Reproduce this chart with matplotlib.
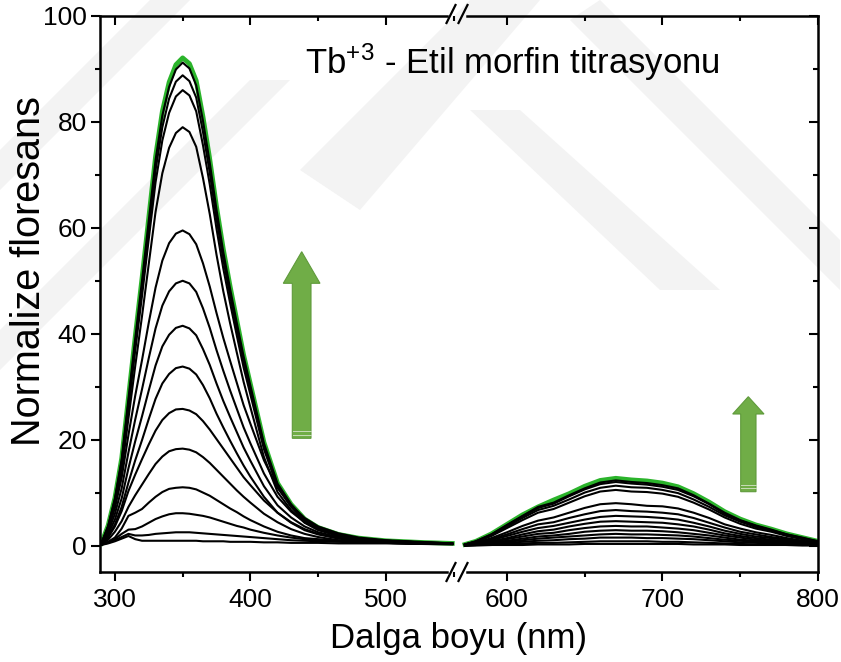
import numpy as np
import matplotlib.pyplot as plt
from matplotlib.patches import Polygon
from matplotlib.lines import Line2D
from matplotlib.ticker import MultipleLocator

plt.rcParams['font.family'] = ['Liberation Sans', 'DejaVu Sans']
plt.rcParams['mathtext.default'] = 'regular'

# wavelengths (nm), left segment (Tb/ligand band) and right segment
wl_left = [290, 295, 300, 305, 310, 315, 320, 325, 330, 335, 340, 345, 350, 355, 360,
           365, 370, 375, 380, 385, 390, 395, 400, 410, 420, 430, 440, 450, 465, 480,
           500, 525, 549]
wl_right = [573, 580, 590, 600, 610, 620, 630, 640, 650, 660, 670, 680, 690, 700, 710,
            720, 730, 740, 750, 760, 770, 780, 790, 800]

# titration curves, lowest to highest
left_black = [
    [0.1, 0.4, 0.8, 1.3, 1.8, 1.2, 0.9, 0.9, 0.9, 0.9, 0.9, 0.9, 0.9, 0.9, 0.9, 0.8, 0.8,
     0.8, 0.8, 0.7, 0.7, 0.7, 0.7, 0.6, 0.6, 0.5, 0.5, 0.5, 0.4, 0.4, 0.4, 0.3, 0.3],
    [0.2, 0.5, 1.0, 1.6, 2.2, 1.9, 1.9, 2.0, 2.2, 2.3, 2.4, 2.5, 2.5, 2.5, 2.4, 2.3, 2.2,
     2.1, 2.0, 1.9, 1.8, 1.7, 1.6, 1.4, 1.2, 1.0, 0.9, 0.8, 0.7, 0.6, 0.5, 0.4, 0.3],
    [0.2, 0.6, 1.2, 2.2, 3.0, 3.1, 3.6, 4.3, 5.0, 5.5, 5.9, 6.1, 6.1, 6.0, 5.8, 5.6, 5.3,
     4.9, 4.5, 4.1, 3.7, 3.4, 3.0, 2.4, 1.9, 1.5, 1.2, 1.0, 0.8, 0.6, 0.5, 0.4, 0.3],
    [0.1, 0.7, 1.5, 3.2, 5.6, 6.2, 6.9, 8.1, 9.2, 10.1, 10.7, 10.9, 11.0, 10.9, 10.6, 10.0,
     9.4, 8.6, 7.8, 7.0, 6.3, 5.5, 4.8, 3.6, 2.6, 1.9, 1.4, 1.2, 0.9, 0.7, 0.5, 0.4, 0.3],
    [0.2, 1.1, 2.6, 4.6, 7.3, 9.5, 11.5, 13.5, 15.4, 16.8, 17.8, 18.2, 18.3, 18.1, 17.6,
     16.7, 15.6, 14.3, 13.0, 11.7, 10.4, 9.2, 8.1, 6.0, 4.4, 3.1, 2.2, 1.6, 1.0, 0.7, 0.5,
     0.3, 0.2],
    [0.3, 1.5, 3.6, 6.5, 10.3, 13.4, 16.3, 19.1, 21.7, 23.7, 25.0, 25.7, 25.8, 25.5, 24.8,
     23.5, 21.9, 20.1, 18.3, 16.5, 14.7, 12.9, 11.4, 8.5, 6.2, 4.4, 3.1, 2.2, 1.4, 1.0, 0.6,
     0.4, 0.3],
    [0.3, 1.7, 4.0, 7.3, 11.9, 16.1, 19.9, 23.9, 27.7, 30.6, 32.4, 33.5, 33.8, 33.4, 32.3,
     30.3, 27.8, 24.9, 22.3, 19.8, 17.4, 15.1, 13.0, 9.2, 6.2, 4.3, 2.9, 2.1, 1.3, 0.9, 0.6,
     0.4, 0.3],
    [0.3, 2.1, 4.9, 8.9, 14.6, 19.7, 24.4, 29.3, 34.0, 37.6, 39.8, 41.1, 41.5, 41.0, 39.7,
     37.1, 34.1, 30.6, 27.3, 24.3, 21.4, 18.5, 16.0, 11.2, 7.6, 5.3, 3.6, 2.5, 1.6, 1.1, 0.7,
     0.5, 0.3],
    [0.4, 2.5, 6.0, 10.8, 17.6, 23.8, 29.5, 35.4, 41.0, 45.3, 48.0, 49.5, 50.0, 49.5, 47.9,
     44.8, 41.1, 36.9, 33.0, 29.3, 25.8, 22.3, 19.3, 13.6, 9.2, 6.4, 4.4, 3.1, 2.0, 1.3, 0.9,
     0.6, 0.4],
    [0.4, 3.0, 7.1, 12.8, 20.9, 28.3, 35.0, 42.1, 48.7, 53.8, 57.1, 58.9, 59.5, 58.8, 56.9,
     53.3, 48.9, 43.9, 39.2, 34.9, 30.7, 26.5, 23.0, 16.1, 10.9, 7.6, 5.2, 3.6, 2.3, 1.5, 1.0,
     0.7, 0.4],
    [0.3, 3.2, 7.7, 14.1, 24.0, 33.9, 43.3, 53.2, 63.0, 70.3, 75.1, 77.9, 79.0, 78.1, 75.3,
     69.4, 62.6, 54.9, 48.0, 42.0, 36.4, 30.9, 26.1, 16.7, 10.1, 6.7, 4.3, 2.9, 1.8, 1.2, 0.8,
     0.5, 0.3],
    [0.3, 3.5, 8.4, 15.4, 26.1, 36.9, 47.1, 57.9, 68.6, 76.5, 81.7, 84.8, 86.0, 85.0, 82.0,
     75.6, 68.2, 59.8, 52.3, 45.8, 39.6, 33.6, 28.5, 18.2, 11.0, 7.3, 4.6, 3.2, 2.0, 1.3, 0.9,
     0.6, 0.3],
    [0.4, 3.6, 8.7, 15.9, 27.0, 38.1, 48.7, 59.8, 70.9, 79.0, 84.4, 87.6, 88.8, 87.7, 84.6,
     78.1, 70.4, 61.7, 54.0, 47.2, 40.9, 34.7, 29.4, 18.8, 11.4, 7.5, 4.8, 3.3, 2.0, 1.3, 0.9,
     0.6, 0.4],
    [0.4, 3.7, 8.9, 16.3, 27.7, 39.1, 50.0, 61.4, 72.8, 81.2, 86.6, 89.9, 91.2, 90.1, 86.9,
     80.2, 72.3, 63.4, 55.4, 48.5, 42.0, 35.7, 30.2, 19.3, 11.7, 7.8, 4.9, 3.4, 2.1, 1.4, 0.9,
     0.6, 0.4],
]
left_green = [0.4, 3.8, 9.0, 16.5, 28.0, 39.5, 50.5, 62.0, 73.5, 82.0, 87.5, 90.8, 92.1,
              91.0, 87.8, 81.0, 73.0, 64.0, 56.0, 49.0, 42.5, 36.0, 30.5, 19.5, 11.8, 7.8,
              5.0, 3.4, 2.1, 1.4, 0.9, 0.6, 0.4]

right_black = [
    [0.0, 0.0, 0.1, 0.1, 0.1, 0.2, 0.2, 0.2, 0.3, 0.3, 0.3, 0.3, 0.3, 0.3, 0.3, 0.2, 0.2,
     0.2, 0.1, 0.1, 0.1, 0.1, 0.0, 0.0],
    [0.0, 0.1, 0.1, 0.3, 0.4, 0.5, 0.5, 0.6, 0.7, 0.8, 0.8, 0.8, 0.8, 0.7, 0.7, 0.6, 0.5,
     0.4, 0.3, 0.2, 0.2, 0.1, 0.1, 0.1],
    [0.0, 0.1, 0.3, 0.5, 0.7, 0.9, 1.0, 1.2, 1.3, 1.5, 1.5, 1.5, 1.4, 1.4, 1.3, 1.2, 1.0,
     0.8, 0.6, 0.5, 0.4, 0.3, 0.2, 0.1],
    [0.0, 0.1, 0.4, 0.7, 1.0, 1.3, 1.5, 1.7, 1.9, 2.1, 2.2, 2.1, 2.1, 2.0, 1.9, 1.7, 1.4,
     1.1, 0.9, 0.7, 0.5, 0.4, 0.3, 0.1],
    [0.0, 0.2, 0.5, 0.9, 1.3, 1.7, 1.9, 2.2, 2.6, 2.8, 2.9, 2.8, 2.8, 2.7, 2.5, 2.2, 1.9,
     1.5, 1.1, 0.9, 0.7, 0.5, 0.3, 0.2],
    [0.1, 0.2, 0.6, 1.2, 1.7, 2.2, 2.4, 2.9, 3.3, 3.6, 3.7, 3.6, 3.6, 3.4, 3.2, 2.9, 2.4,
     1.9, 1.5, 1.1, 0.9, 0.6, 0.4, 0.2],
    [0.1, 0.3, 0.8, 1.4, 2.1, 2.7, 3.0, 3.6, 4.1, 4.5, 4.6, 4.5, 4.4, 4.3, 4.0, 3.6, 3.0,
     2.3, 1.8, 1.4, 1.1, 0.8, 0.5, 0.3],
    [0.1, 0.4, 1.0, 1.8, 2.6, 3.3, 3.7, 4.3, 4.9, 5.4, 5.6, 5.5, 5.4, 5.2, 4.9, 4.3, 3.6,
     2.8, 2.2, 1.7, 1.4, 1.0, 0.7, 0.4],
    [0.1, 0.4, 1.2, 2.1, 3.1, 4.0, 4.4, 5.2, 5.9, 6.5, 6.7, 6.5, 6.4, 6.2, 5.9, 5.2, 4.3,
     3.4, 2.6, 2.1, 1.6, 1.2, 0.8, 0.4],
    [0.1, 0.5, 1.4, 2.5, 3.7, 4.7, 5.3, 6.2, 7.1, 7.8, 8.0, 7.8, 7.5, 7.4, 7.0, 6.2, 5.2,
     4.0, 3.2, 2.5, 2.0, 1.4, 0.9, 0.5],
    [0.2, 0.7, 1.8, 3.3, 4.8, 6.2, 6.9, 8.1, 9.3, 10.2, 10.5, 10.2, 10.1, 9.8, 9.2, 8.1, 6.8,
     5.3, 4.1, 3.2, 2.6, 1.8, 1.2, 0.7],
    [0.2, 0.7, 2.0, 3.6, 5.2, 6.7, 7.5, 8.7, 10.0, 10.9, 11.3, 11.0, 10.9, 10.5, 9.9, 8.7,
     7.3, 5.7, 4.5, 3.5, 2.8, 2.0, 1.3, 0.7],
    [0.2, 0.8, 2.1, 3.8, 5.5, 7.1, 7.9, 9.3, 10.6, 11.6, 12.0, 11.7, 11.5, 11.1, 10.5, 9.3,
     7.8, 6.0, 4.7, 3.7, 2.9, 2.1, 1.4, 0.8],
    [0.2, 0.8, 2.1, 3.9, 5.6, 7.3, 8.1, 9.5, 10.8, 11.9, 12.3, 12.0, 11.8, 11.4, 10.8, 9.5,
     7.9, 6.2, 4.8, 3.8, 3.0, 2.1, 1.5, 0.8],
]
right_green = [0.2, 0.8, 2.2, 4.0, 5.8, 7.3, 8.6, 9.8, 11.2, 12.3, 12.7, 12.4, 12.2, 11.8,
               11.1, 9.8, 8.2, 6.4, 5.0, 3.9, 3.1, 2.2, 1.5, 0.8]

yticks = [0, 20, 40, 60, 80, 100]

W, H = 841, 662
green = '#2bb42b'


def fx(px):
    return px / W


def fy(py):
    return 1 - py / H


fig = plt.figure(figsize=(W / 100, H / 100), dpi=100)

# faint watermark shapes behind everything
wm = '#f3f3f3'
for pts in [[(0, 150), (150, 0), (190, 0), (0, 190)],
            [(0, 330), (250, 80), (290, 80), (0, 370)],
            [(300, 170), (470, 0), (540, 0), (360, 210)],
            [(470, 110), (660, 290), (720, 290), (520, 110)],
            [(600, 0), (840, 240), (840, 290), (570, 20)]]:
    fig.patches.append(Polygon([(fx(x), fy(y)) for x, y in pts], closed=True,
                               transform=fig.transFigure, facecolor=wm, edgecolor='none',
                               zorder=-5))

ax1 = fig.add_axes([fx(100), fy(572), fx(455) - fx(100), fy(16) - fy(572)])
ax2 = fig.add_axes([fx(462), fy(572), fx(818) - fx(462), fy(16) - fy(572)])

for ax in (ax1, ax2):
    ax.set_facecolor('none')
    ax.set_zorder(2)
    ax.set_ylim(-5, 100)
    ax.set_yticks(yticks)
    ax.yaxis.set_minor_locator(MultipleLocator(10))
    ax.xaxis.set_major_locator(MultipleLocator(100))
    ax.xaxis.set_minor_locator(MultipleLocator(50))
    for s in ax.spines.values():
        s.set_linewidth(1.8)
    ax.tick_params(which='major', length=6.5, width=1.5, labelsize=19, direction='out')
    ax.tick_params(which='minor', length=3.5, width=1.5, direction='out')
    ax.tick_params(axis='x', pad=5)

ax1.set_xlim(289, 551)
ax2.set_xlim(571.1, 800)

ax1.plot(wl_left, left_green, color=green, lw=3.4, zorder=2)
for ys in left_black:
    ax1.plot(wl_left, ys, color='black', lw=1.5, zorder=3)
ax2.plot(wl_right, right_green, color=green, lw=3.4, zorder=2)
for ys in right_black:
    ax2.plot(wl_right, ys, color='black', lw=1.5, zorder=3)

ax1.spines['right'].set_visible(False)
ax1.spines['top'].set_bounds(289, 545)
ax1.spines['bottom'].set_bounds(289, 545)
ax1.tick_params(axis='y', pad=3)

ax2.spines['left'].set_visible(False)
ax2.spines['top'].set_bounds(574.3, 800)
ax2.spines['bottom'].set_bounds(574.3, 800)
ax2.yaxis.tick_right()
ax2.tick_params(axis='y', which='both', direction='in', labelright=False)

# inward ticks along the top edge
for ax in (ax1, ax2):
    sec = ax.secondary_xaxis('top')
    for s in sec.spines.values():
        s.set_visible(False)
    sec.xaxis.set_major_locator(MultipleLocator(100))
    sec.xaxis.set_minor_locator(MultipleLocator(50))
    sec.tick_params(which='major', direction='in', length=6.5, width=1.5, labeltop=False)
    sec.tick_params(which='minor', direction='in', length=3.5, width=1.5)

# axis break marks
for cx in (451, 463):
    for cy in (14, 572):
        fig.lines.append(Line2D([fx(cx - 4.5), fx(cx + 4.5)], [fy(cy + 9), fy(cy - 9)],
                                transform=fig.transFigure, color='black', lw=1.6,
                                zorder=10))

# green arrows
for tip, hb, hl, hr, sl, sr, bot in [((301.7, 251.7), 283.3, 283.3, 320.0, 292.3, 311.0, 438.3),
                                     ((748.3, 396.7), 414.0, 732.7, 764.0, 740.7, 756.0, 491.7)]:
    pts = [tip, (hr, hb), (sr, hb), (sr, bot), (sl, bot), (sl, hb), (hl, hb)]
    fig.patches.append(Polygon([(fx(x), fy(y)) for x, y in pts], closed=True,
                               transform=fig.transFigure, facecolor='#70ad47',
                               edgecolor='#5f9a3b', lw=0.8, zorder=5))
    for dy in (3.5, 7.0):
        fig.lines.append(Line2D([fx(sl + 0.5), fx(sr - 0.5)], [fy(bot - dy), fy(bot - dy)],
                                transform=fig.transFigure, color='#c8dcb8', lw=0.7,
                                zorder=6))

fig.text(fx(305), fy(74), 'Tb$^{+3}$ - Etil morfin titrasyonu', fontsize=25,
         va='baseline', ha='left')
fig.text(fx(459), fy(648), 'Dalga boyu (nm)', fontsize=25, ha='center', va='baseline')
fig.text(fx(29), fy(271), 'Normalize floresans', fontsize=28.5, ha='center', va='center',
         rotation=90)

fig.savefig('out.png', dpi=100)
